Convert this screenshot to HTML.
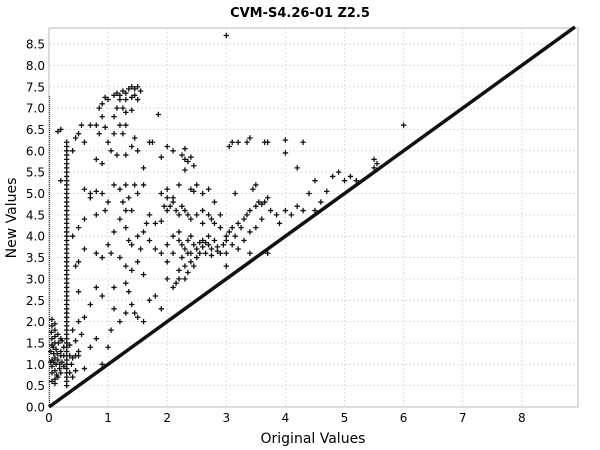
<!DOCTYPE html>
<html><head><meta charset="utf-8"><style>
html,body{margin:0;padding:0;background:#fff;}
svg{display:block;font-family:"Liberation Sans","DejaVu Sans",sans-serif;}
</style></head><body>
<svg id="chart" width="600" height="450" viewBox="0 0 600 450" xmlns="http://www.w3.org/2000/svg">
<rect width="600" height="450" fill="#fff"/>
<text x="300" y="17" text-anchor="middle" font-size="13" font-weight="bold" font-family="DejaVu Sans, sans-serif">CVM-S4.26-01 Z2.5</text>
<g id="grid"></g>
<g id="axes"></g>
<g id="marks"></g>
<text x="313" y="443" text-anchor="middle" font-size="14" font-family="DejaVu Sans, sans-serif">Original Values</text>
<text transform="translate(16,218) rotate(-90)" text-anchor="middle" font-size="14" font-family="DejaVu Sans, sans-serif">New Values</text>
</svg>
<script>
const xTicks=[0,1,2,3,4,5,6,7,8];
const xTickLabels=["0","1","2","3","4","5","6","7","8"];
const yTicks=[0,0.5,1,1.5,2,2.5,3,3.5,4,4.5,5,5.5,6,6.5,7,7.5,8,8.5];
const yTickLabels=["0.0","0.5","1.0","1.5","2.0","2.5","3.0","3.5","4.0","4.5","5.0","5.5","6.0","6.5","7.0","7.5","8.0","8.5"];
const diagonal=[[0,0],[8.9,8.9]];
const zeroColumn=[0,7.3];
const col03Y=[0.5,0.6,0.7,0.8,0.9,1.0,1.1,1.2,1.3,1.4,1.5,1.6,1.7,1.8,1.9,2.0,2.1,2.2,2.3,2.4,2.5,2.6,2.7,2.8,2.9,3.0,3.1,3.2,3.3,3.4,3.5,3.6,3.7,3.8,3.9,4.0,4.1,4.2,4.3,4.4,4.5,4.6,4.7,4.8,4.9,5.0,5.1,5.2,5.3,5.4,5.5,5.6,5.7,5.8,5.9,6.0,6.1,6.2];
const clusterLow=[[0.05,0.6],[0.1,0.65],[0.15,0.7],[0.05,0.8],[0.1,0.85],[0.2,0.8],[0.05,0.95],[0.12,1.0],[0.18,1.0],[0.25,0.95],[0.05,1.1],[0.1,1.15],[0.15,1.1],[0.2,1.2],[0.08,1.25],[0.03,1.3],[0.12,1.35],[0.2,1.3],[0.25,1.4],[0.05,1.45],[0.1,1.5],[0.16,1.5],[0.22,1.55],[0.05,1.6],[0.1,1.65],[0.15,1.7],[0.04,1.75],[0.1,1.8],[0.05,1.9],[0.1,1.95],[0.05,2.05],[0.08,1.05],[0.14,1.25],[0.18,0.9],[0.22,1.05],[0.03,1.05],[0.07,1.4],[0.13,0.75],[0.2,1.6],[0.25,1.2],[0.35,1.2],[0.4,1.15],[0.45,1.2],[0.5,1.2],[0.35,0.8],[0.4,0.7],[0.38,1.0],[0.45,1.55],[0.35,1.45],[0.1,0.55]];
const scatterPts=[[1.0,7.2],[0.95,7.25],[0.9,7.1],[0.85,7.0],[1.1,7.3],[1.15,7.35],[1.2,7.3],[1.25,7.4],[1.3,7.35],[1.35,7.45],[1.4,7.5],[1.45,7.45],[1.5,7.5],[1.45,7.3],[1.4,7.25],[1.3,7.2],[1.2,7.2],[1.15,7.0],[1.25,7.0],[1.3,6.9],[1.4,6.95],[1.5,7.2],[1.55,7.4],[1.1,6.8],[1.2,6.6],[1.3,6.6],[1.25,6.4],[1.1,6.4],[1.0,6.2],[1.05,6.0],[1.15,5.9],[1.3,5.9],[1.4,6.1],[1.45,6.3],[1.5,6.0],[1.6,5.6],[1.6,5.2],[0.5,6.4],[0.45,6.3],[0.55,6.6],[0.7,6.6],[0.8,6.6],[0.9,6.8],[0.85,6.4],[0.95,6.55],[0.9,5.7],[0.8,5.8],[0.6,6.2],[0.4,6.0],[0.2,6.5],[0.15,6.45],[1.85,6.85],[2.0,6.1],[2.1,6.0],[1.9,5.85],[1.7,6.2],[1.75,6.2],[2.25,5.9],[2.3,5.8],[2.35,5.75],[2.3,5.55],[2.4,5.85],[2.45,5.65],[2.2,5.2],[2.3,6.05],[3.1,6.2],[3.2,6.2],[3.05,6.1],[3.35,6.2],[3.4,6.3],[3.65,6.2],[3.7,6.2],[4.0,6.25],[4.3,6.2],[4.0,5.95],[4.2,5.6],[4.5,5.3],[4.8,5.4],[4.9,5.5],[5.0,5.3],[5.1,5.4],[5.2,5.3],[5.5,5.8],[5.55,5.7],[5.5,5.6],[6.0,6.6],[3.0,8.7],[2.4,5.1],[2.45,5.05],
[0.6,5.1],[0.7,5.0],[0.8,5.05],[0.9,5.0],[0.95,4.6],[0.7,4.9],[0.6,4.4],[0.5,4.2],[0.8,4.5],[1.0,4.8],[1.1,5.2],[1.2,5.1],[1.3,5.2],[1.35,4.9],[1.25,4.8],[1.4,4.6],[1.45,5.2],[1.5,5.0],[1.3,4.6],[1.2,4.4],[1.1,4.1],[1.3,4.2],[1.35,3.9],[1.4,3.8],[1.5,4.0],[1.55,3.7],[1.6,4.1],[1.65,4.3],[1.7,4.5],[1.8,4.3],[1.9,4.35],[2.0,4.6],[2.05,4.7],[2.1,4.8],[2.1,4.9],[2.15,4.6],[2.2,4.5],[2.25,4.7],[1.95,4.7],[2.0,4.9],[2.3,4.6],[2.35,4.5],[2.4,4.4],[2.5,4.5],[2.6,4.6],[2.7,4.5],[2.75,4.4],[2.6,4.3],[2.8,4.3],[1.0,3.8],[1.05,3.6],[0.9,3.5],[0.8,3.6],[0.6,3.7],[0.5,3.4],[1.2,3.5],[1.3,3.3],[1.4,3.2],[1.5,3.4],[1.6,3.1],[1.7,3.9],[1.8,3.7],[1.9,3.6],[0.8,2.8],[0.9,2.6],[1.1,2.8],[1.3,2.9],[1.35,2.7],[1.4,2.4],[1.45,2.2],[1.5,2.1],[1.6,2.0],[1.7,2.5],[1.8,2.6],[1.9,2.3],[2.0,3.0],[2.1,2.8],[2.0,3.4],[0.7,2.4],[0.6,2.1],[0.5,2.0],[0.4,1.8],[0.5,1.3],[0.8,1.6],[0.9,1.0],[1.0,1.4],[0.7,1.4],[0.6,0.9],[0.45,0.85],[1.1,2.3],[1.2,2.0],[1.3,2.2],[1.05,1.8],
[2.2,3.9],[2.25,3.8],[2.3,3.7],[2.35,3.9],[2.4,3.6],[2.45,3.8],[2.5,3.7],[2.55,3.85],[2.6,3.75],[2.65,3.6],[2.7,3.8],[2.75,3.7],[2.8,3.9],[2.85,3.75],[2.9,3.6],[2.95,3.8],[3.0,3.9],[2.5,3.5],[2.4,3.4],[2.3,3.3],[2.2,3.2],[2.25,3.5],[2.35,3.6],[2.6,3.9],[2.7,4.0],[2.2,3.0],[2.15,2.9],[2.3,3.0],[2.1,3.6],[2.0,3.8],[2.1,4.0],[2.2,4.1],[2.4,4.0],[2.55,3.6],[2.65,3.85],[2.75,3.55],[2.85,3.65],[2.45,3.3],[2.35,3.15],
[3.0,4.0],[3.05,4.1],[3.1,4.2],[3.15,4.0],[3.2,4.3],[3.25,4.2],[3.3,4.4],[3.35,4.5],[3.4,4.6],[3.5,4.7],[3.55,4.8],[3.6,4.75],[3.65,4.8],[3.7,4.9],[3.5,4.2],[3.6,4.4],[3.3,3.9],[3.2,3.7],[3.0,3.6],[3.1,3.8],[3.75,4.6],[3.85,4.5],[3.9,4.3],[4.0,4.6],[4.2,4.7],[4.3,4.6],[4.1,4.5],[3.4,4.1],[3.4,3.6],[3.0,3.3],[3.7,3.6],[4.6,4.8],[4.5,4.6],[4.4,5.0],[4.7,5.05],[2.9,4.2],[2.9,4.5],[2.8,4.8],[2.6,5.0],[2.5,5.2],[2.7,5.1],[3.15,5.0],[3.45,5.1],[3.5,5.2],[2.0,5.1],[1.9,5.0],[0.2,5.3],[0.4,4.0],[0.45,3.3],[0.5,2.7],[0.55,1.7]];

const L=49,R=578,T=28,B=407;
const sx=v=>L+v*59.1;
const sy=v=>B-v*42.7;
const NS="http://www.w3.org/2000/svg";
function mk(tag,attrs,parent){const e=document.createElementNS(NS,tag);for(const k in attrs)e.setAttribute(k,attrs[k]);parent.appendChild(e);return e;}
const grid=document.getElementById('grid'),axes=document.getElementById('axes'),marks=document.getElementById('marks');
mk('rect',{x:L,y:T,width:R-L,height:B-T,fill:'#fff'},grid);
xTicks.forEach((t,i)=>{
  const g=mk('line',{x1:sx(t),x2:sx(t),y1:T,y2:B,stroke:'#ddd','stroke-dasharray':'2,2'},grid);
  
  
  const lb=mk('text',{x:sx(t),y:B+15,'text-anchor':'middle','font-size':12,'font-family':'DejaVu Sans, sans-serif'},axes);
  lb.textContent=xTickLabels[i];
  
  
});
yTicks.forEach((t,i)=>{
  const g=mk('line',{x1:L,x2:R,y1:sy(t),y2:sy(t),stroke:'#ddd','stroke-dasharray':'2,2'},grid);
  
  
  const lb=mk('text',{x:L-4,y:sy(t)+4.5,'text-anchor':'end','font-size':12,'font-family':'DejaVu Sans, sans-serif'},axes);
  lb.textContent=yTickLabels[i];
  
  
});
const frame=mk('rect',{x:L,y:T,width:R-L,height:B-T,fill:'none',stroke:'#bbb'},axes);


const zc=mk('line',{x1:sx(0)+0.5,x2:sx(0)+0.5,y1:sy(zeroColumn[0]),y2:sy(zeroColumn[1]),stroke:'#333','stroke-width':1.2,'stroke-dasharray':'1,1'},marks);


const dl=mk('line',{x1:sx(diagonal[0][0]),y1:sy(diagonal[0][1]),x2:sx(diagonal[1][0]),y2:sy(diagonal[1][1]),stroke:'#111','stroke-width':3.5},marks);


function plus(x,y){
  const p=mk('path',{d:`M${sx(x)-2.7},${sy(y)}h5.4M${sx(x)},${sy(y)-2.7}v5.4`,stroke:'#111','stroke-width':1.3,fill:'none'},marks);
  
  
}
col03Y.forEach(y=>plus(0.3,y));
clusterLow.forEach(p=>plus(p[0],p[1]));
scatterPts.forEach(p=>plus(p[0],p[1]));
</script>
</body></html>
